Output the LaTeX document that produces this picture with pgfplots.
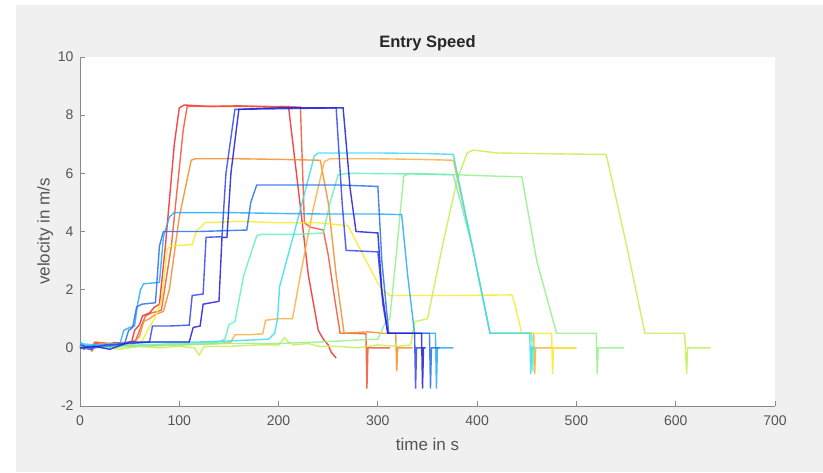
\documentclass[border=0pt]{standalone}
\usepackage{pgfplots}
\pgfplotsset{compat=1.18}
\usepackage{fontspec}
\setmainfont{Liberation Sans}

\definecolor{figbg}{HTML}{F0F0F0}
\definecolor{axgray}{HTML}{8A8A8A}
\definecolor{txtgray}{HTML}{555555}
\definecolor{c1}{RGB}{245,40,40}
\definecolor{c2}{RGB}{240,85,50}
\definecolor{c3}{RGB}{245,140,40}
\definecolor{c4}{RGB}{250,175,60}
\definecolor{c5}{RGB}{250,235,40}
\definecolor{c6}{RGB}{195,240,80}
\definecolor{c7}{RGB}{150,240,140}
\definecolor{c8}{RGB}{100,240,190}
\definecolor{c9}{RGB}{60,220,240}
\definecolor{c10}{RGB}{40,170,250}
\definecolor{c11}{RGB}{40,110,240}
\definecolor{c12}{RGB}{50,70,240}
\definecolor{c13}{RGB}{30,30,220}

\begin{document}
\begin{tikzpicture}
\fill[white] (-80pt,-67pt) rectangle (743pt,406pt);
\fill[figbg] (-64pt,-66pt) rectangle (743pt,401pt);
\useasboundingbox (-80pt,-67pt) rectangle (743pt,406pt);
\begin{axis}[
    anchor=south west,
    scale only axis, width=695pt, height=349pt,
    xmin=0, xmax=700, ymin=-2, ymax=10,
    xtick={0,100,...,700}, ytick={-2,0,...,10},
    axis x line*=bottom, axis y line*=left,
    axis line style={axgray, line width=0.9pt},
    tick style={axgray, line width=0.9pt},
    tick align=inside, major tick length=5pt,
    axis background/.style={fill=white},
    /pgf/number format/assume math mode=true,
    ticklabel style={font=\fontsize{14}{14}\selectfont, text=txtgray},
    xticklabel style={yshift=-6pt},
    yticklabel style={xshift=-3pt},
    xlabel={time in s}, ylabel={velocity in m/s},
    label style={font=\fontsize{17}{17}\selectfont, text=txtgray},
    xlabel style={yshift=-6pt},
    ylabel style={yshift=-2pt},
    title={Entry Speed},
    title style={font=\bfseries\fontsize{16.5}{16.5}\selectfont, text=black!85, yshift=-3pt},
    every axis plot/.append style={no markers, line width=1.4pt, opacity=0.85},
    clip=false
]
% red
\addplot[c1] coordinates {(0,0.05) (4,-0.05) (8,0.1) (12,-0.1) (16,0.15) (25,0.1) (35,0.18) (45,0.15) (52,0.2) (55,0.6) (60,0.8) (63,1.1) (70,1.2) (75,1.4) (80,1.5) (86,3.5) (95,7.0) (100,8.25) (105,8.35) (130,8.3) (160,8.32) (190,8.28) (210,8.3) (218,6.0) (230,2.5) (240,0.6) (245,0.3) (250,0.1) (253,-0.15) (258,-0.35)};
% red-orange
\addplot[c2] coordinates {(0,0) (5,0.1) (10,-0.05) (15,0.2) (30,0.15) (50,0.2) (56,0.25) (60,0.6) (66,1.1) (72,1.2) (78,1.25) (82,1.3) (92,3.5) (104,7.5) (108,8.3) (150,8.3) (190,8.3) (222,8.28) (226,4.3) (232,4.15) (245,4.05) (250,3.2) (256,1.8) (262,0.5) (275,0.5) (288,0.48) (289,-1.4) (290,0) (312,0)};
% orange
\addplot[c3] coordinates {(0,0.1) (8,0) (20,0.15) (40,0.1) (55,0.2) (60,0.4) (64,0.9) (70,1.0) (76,1.15) (84,1.25) (90,2.0) (100,4.5) (112,6.45) (116,6.5) (160,6.5) (200,6.48) (242,6.45) (250,5.0) (258,2.5) (266,0.5) (290,0.55) (305,0.5) (318,0.5) (319,-0.8) (320,0) (335,0)};
% light orange
\addplot[c4] coordinates {(0,0) (20,0.05) (60,0.05) (100,0.1) (140,0.15) (152,0.2) (156,0.45) (170,0.45) (184,0.48) (187,0.95) (200,1.0) (214,1.0) (222,2.5) (235,4.8) (246,6.4) (252,6.5) (300,6.5) (340,6.48) (376,6.45) (395,3.5) (413,0.5) (430,0.5) (457,0.5) (458,-0.9) (459,0) (500,0)};
% yellow
\addplot[c5] coordinates {(0,0) (10,0.05) (30,0) (50,0.1) (62,0.2) (68,0.6) (75,1.0) (82,1.6) (88,3.4) (92,3.5) (113,3.55) (117,4.0) (126,4.3) (160,4.35) (200,4.3) (240,4.3) (270,4.2) (285,3.2) (302,2.1) (312,1.8) (380,1.8) (435,1.82) (438,1.5) (445,0.5) (465,0.5) (475,0.5) (476,-0.9) (477,0) (500,0)};
% yellow-green
\addplot[c6] coordinates {(0,0.1) (10,0) (20,0.05) (40,-0.05) (60,0.05) (80,0.0) (100,0.05) (115,0.0) (120,-0.25) (125,0.05) (150,0.05) (180,0.1) (200,0.1) (206,0.35) (210,0.2) (215,0.1) (230,0.15) (240,0.05) (260,0.05) (280,0.0) (300,0.1) (320,0.05) (333,0.1) (337,0.9) (350,1.0) (365,3.5) (380,5.8) (390,6.7) (396,6.8) (420,6.7) (460,6.68) (500,6.66) (530,6.65) (550,3.6) (569,0.5) (590,0.5) (609,0.5) (611,-0.9) (612,0) (635,0)};
% light green
\addplot[c7] coordinates {(0,0.05) (20,0.0) (50,0.05) (100,0.1) (150,0.15) (200,0.15) (240,0.2) (270,0.25) (300,0.3) (308,0.9) (312,1.0) (318,3.0) (326,5.9) (332,6.0) (380,5.95) (420,5.9) (445,5.88) (460,3.0) (480,0.5) (500,0.5) (520,0.5) (521,-0.9) (522,0) (548,0)};
% aqua green
\addplot[c8] coordinates {(0,0.1) (20,0.05) (60,0.1) (100,0.15) (140,0.2) (146,0.3) (150,0.8) (156,0.9) (165,2.5) (178,3.85) (182,3.9) (220,3.9) (245,3.95) (252,5.0) (260,5.95) (270,6.0) (330,5.98) (376,5.95) (395,3.5) (413,0.5) (440,0.5) (455,0.5) (456,-0.8) (457,0) (460,0)};
% cyan
\addplot[c9] coordinates {(0,0.15) (15,0.1) (40,0.15) (80,0.2) (120,0.2) (160,0.25) (190,0.3) (196,0.5) (199,1.0) (201,2.1) (220,4.5) (236,6.6) (240,6.7) (300,6.7) (350,6.68) (376,6.65) (395,3.5) (413,0.5) (440,0.5) (453,0.5) (454,-0.9) (455,0) (457,0)};
% light blue
\addplot[c10] coordinates {(0,0.2) (5,0.05) (15,0.1) (30,0.05) (40,0.1) (44,0.6) (50,0.7) (55,0.75) (58,1.5) (61,2.0) (64,2.2) (80,2.25) (84,3.8) (90,4.5) (95,4.65) (150,4.65) (200,4.62) (250,4.6) (300,4.6) (324,4.58) (330,2.5) (337,0.5) (350,0.5) (358,0.5) (359,-1.4) (360,0) (376,0)};
% azure
\addplot[c11] coordinates {(0,0) (10,-0.05) (20,0.05) (35,0.1) (45,0.15) (49,0.6) (53,0.7) (57,1.4) (62,1.5) (76,1.55) (80,3.5) (84,4.0) (120,4.0) (168,4.05) (172,5.0) (178,5.6) (220,5.6) (260,5.6) (300,5.55) (304,3.0) (311,0.5) (330,0.5) (352,0.5) (353,-1.4) (354,0) (362,0)};
% blue
\addplot[c12] coordinates {(0,0.1) (10,0.0) (25,0.1) (50,0.15) (70,0.2) (73,0.75) (90,0.75) (110,0.78) (113,1.8) (124,1.85) (127,3.8) (143,3.82) (147,6.0) (156,8.2) (200,8.22) (258,8.25) (264,5.0) (268,3.35) (300,3.3) (305,1.5) (310,0.5) (325,0.5) (337,0.5) (338,-1.4) (339,0) (345,0)};
% dark blue
\addplot[c13] coordinates {(0,0) (15,0.05) (30,-0.05) (50,0.2) (80,0.2) (110,0.2) (114,0.7) (121,0.75) (124,1.5) (140,1.6) (143,3.8) (148,3.8) (152,6.0) (160,8.2) (200,8.25) (265,8.25) (272,5.5) (278,4.0) (300,3.95) (304,2.0) (310,0.5) (330,0.5) (344,0.5) (345,-1.4) (346,0) (348,0)};
\end{axis}
\end{tikzpicture}
\end{document}
